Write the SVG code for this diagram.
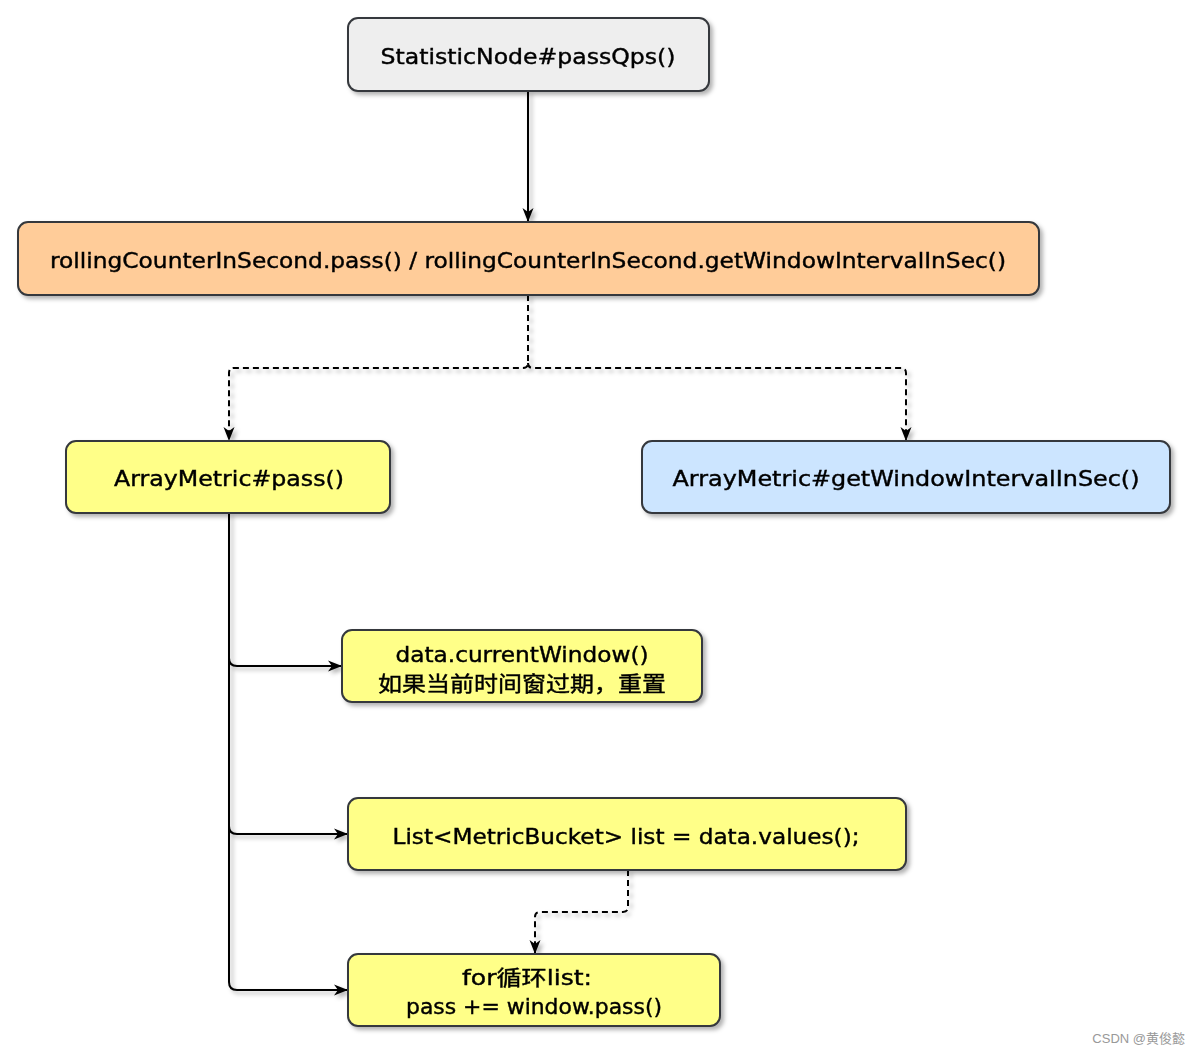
<svg xmlns="http://www.w3.org/2000/svg" width="1200" height="1056" viewBox="0 0 1200 1056">
<style>
.box{stroke:#36393d;stroke-width:2}
.t{font-family:"DejaVu Sans","Noto Sans CJK SC",sans-serif;font-size:21px;fill:#000;text-anchor:middle;stroke:#000;stroke-width:0.4}
.c{fill:none;stroke:#000;stroke-width:2}
.d{stroke-dasharray:6 4}
</style>
<defs>
<filter id="sh" x="-10%" y="-20%" width="120%" height="150%">
<feDropShadow dx="3" dy="3" stdDeviation="2" flood-color="#000" flood-opacity="0.3"/>
</filter>
<marker id="a" markerWidth="16" markerHeight="16" viewBox="0 0 16 16" refX="14" refY="8" orient="auto" markerUnits="userSpaceOnUse">
<path d="M1,2.5 L15,8 L1,13.5 L5,8 Z" fill="#000"/>
</marker>
</defs>
<g id="connectors" filter="url(#sh)">
<path class="c" d="M528,91 V221" marker-end="url(#a)"/>
<path class="c d" d="M528,295 V363 Q528,368 523,368 H234 Q229,368 229,373 V440" marker-end="url(#a)"/>
<path class="c d" d="M528,363 Q528,368 533,368 H901 Q906,368 906,373 V440" marker-end="url(#a)"/>
<path class="c" d="M229,513 V658 Q229,666 237,666 H341" marker-end="url(#a)"/>
<path class="c" d="M229,650 V826 Q229,834 237,834 H347" marker-end="url(#a)"/>
<path class="c" d="M229,820 V982 Q229,990 237,990 H347" marker-end="url(#a)"/>
<path class="c d" d="M628,870 V907 Q628,912 623,912 H540 Q535,912 535,917 V953" marker-end="url(#a)"/>
</g>
<g id="n1" filter="url(#sh)"><rect class="box" x="348" y="18" width="361" height="73" rx="10" fill="#eeeeee"/><text class="t" x="528" y="64" textLength="295" lengthAdjust="spacingAndGlyphs">StatisticNode#passQps()</text></g>
<g id="n2" filter="url(#sh)"><rect class="box" x="18" y="222" width="1021" height="73" rx="10" fill="#ffcc99"/><text class="t" x="528" y="268" textLength="956" lengthAdjust="spacingAndGlyphs">rollingCounterInSecond.pass() / rollingCounterInSecond.getWindowIntervalInSec()</text></g>
<g id="n3" filter="url(#sh)"><rect class="box" x="66" y="441" width="324" height="72" rx="10" fill="#ffff88"/><text class="t" x="229" y="486" textLength="230" lengthAdjust="spacingAndGlyphs">ArrayMetric#pass()</text></g>
<g id="n4" filter="url(#sh)"><rect class="box" x="642" y="441" width="528" height="72" rx="10" fill="#cce5ff"/><text class="t" x="906" y="486" textLength="467" lengthAdjust="spacingAndGlyphs">ArrayMetric#getWindowIntervalInSec()</text></g>
<g id="n5" filter="url(#sh)"><rect class="box" x="342" y="630" width="360" height="72" rx="10" fill="#ffff88"/><text class="t" x="522" y="662" textLength="253" lengthAdjust="spacingAndGlyphs">data.currentWindow()</text><text class="t" x="522" y="691" textLength="288" lengthAdjust="spacingAndGlyphs">如果当前时间窗过期，重置</text></g>
<g id="n6" filter="url(#sh)"><rect class="box" x="348" y="798" width="558" height="72" rx="10" fill="#ffff88"/><text class="t" x="626" y="844" textLength="467" lengthAdjust="spacingAndGlyphs">List&lt;MetricBucket&gt; list = data.values();</text></g>
<g id="n7" filter="url(#sh)"><rect class="box" x="348" y="954" width="372" height="72" rx="10" fill="#ffff88"/><text class="t" x="527" y="985" textLength="130" lengthAdjust="spacingAndGlyphs">for循环list:</text><text class="t" x="534" y="1014" textLength="256" lengthAdjust="spacingAndGlyphs">pass += window.pass()</text></g>
<text x="1185" y="1043" style="font-family:'Liberation Sans','Noto Sans CJK SC',sans-serif;font-size:13px;fill:#999;text-anchor:end">CSDN @黄俊懿</text>
</svg>
